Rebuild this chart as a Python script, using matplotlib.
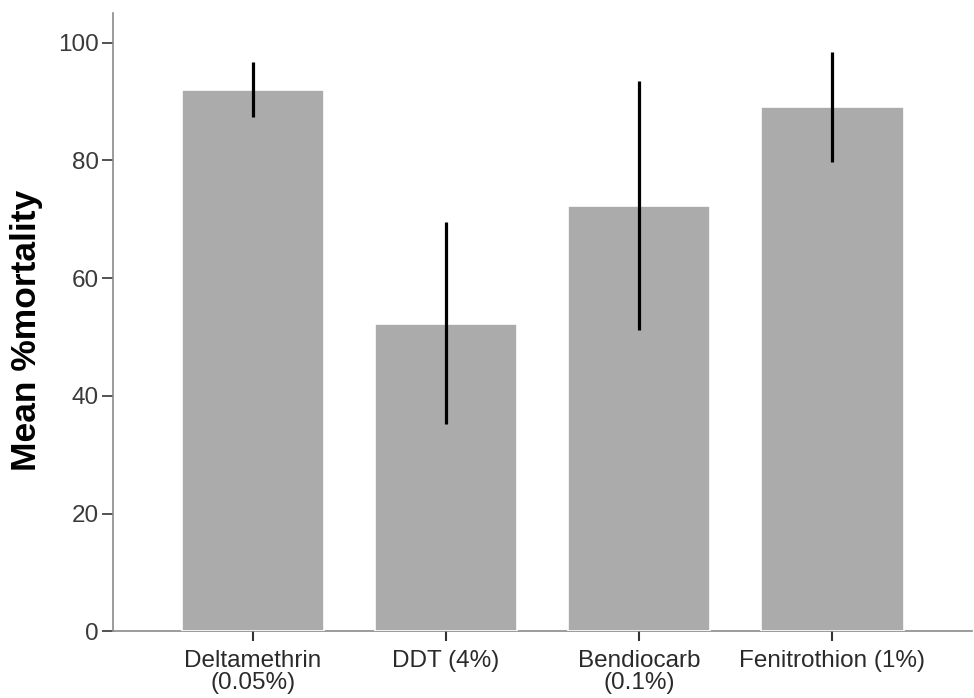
import matplotlib
matplotlib.use("Agg")
import matplotlib.pyplot as plt
import numpy as np

categories = ["Deltamethrin\n(0.05%)", "DDT (4%)", "Bendiocarb\n(0.1%)", "Fenitrothion (1%)"]
means = [91.9, 52.2, 72.3, 89.0]
err_low = [87.3, 35.3, 51.2, 79.7]
err_high = [96.7, 69.5, 93.5, 98.4]
yticks = [0, 20, 40, 60, 80, 100]
ylabel = "Mean %mortality"

plt.rcParams['font.family'] = ['Liberation Sans', 'DejaVu Sans']

fig = plt.figure(figsize=(9.74, 6.98), dpi=100)
ax = fig.add_axes([0.116, 0.0953, 0.882, 0.886])

x = np.arange(len(categories))
m = np.array(means)
lo = m - np.array(err_low)
hi = np.array(err_high) - m

ax.bar(x, m, width=0.74, color='#ababab', edgecolor='white', linewidth=1.2, zorder=3)
ax.errorbar(x, m, yerr=[lo, hi], fmt='none', ecolor='black', elinewidth=2.3, capsize=0, zorder=4)

ax.set_xlim(-0.725, 3.725)
ax.set_ylim(0, 105)
ax.set_yticks(yticks)
ax.set_yticklabels([str(v) for v in yticks])
ax.set_xticks(x)
ax.set_xticklabels(categories, linespacing=1.0)

for s in ['top', 'right']:
    ax.spines[s].set_visible(False)
for s in ['left', 'bottom']:
    ax.spines[s].set_color('#8a8a8a')
    ax.spines[s].set_linewidth(1.2)

ax.tick_params(axis='y', length=8, width=1.3, color='#444444', labelsize=17.5, labelcolor='#3a3a3a', pad=2)
ax.tick_params(axis='x', length=7, width=1.5, color='#333333', labelsize=17.5, labelcolor='#2a2a2a', pad=6)

ax.set_ylabel(ylabel, fontsize=25.5, fontweight='bold', color='black')
ax.yaxis.set_label_coords(-0.082, 0.4875)

fig.savefig("out.png", dpi=100)
